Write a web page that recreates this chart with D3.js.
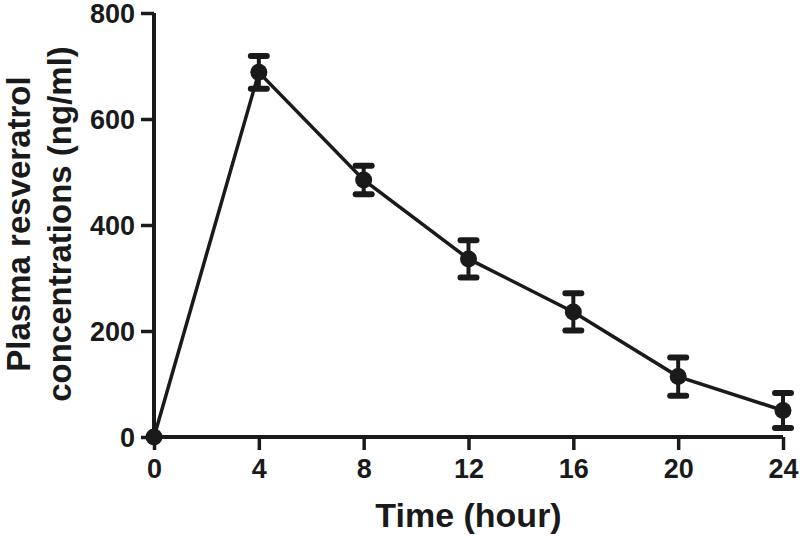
<!DOCTYPE html>
<html>
<head>
<meta charset="utf-8">
<script src="https://cdn.jsdelivr.net/npm/d3@7"></script>
<style>
  body { margin: 0; background: #fff; }
  svg { display: block; }
  text { font-family: "Liberation Sans", Arial, sans-serif; font-weight: bold; fill: #1a1a1a; }
</style>
</head>
<body>
<div id="chart"></div>
<script>
// time points (hour) and plasma levels
var hours = [0, 4, 8, 12, 16, 20, 24];
var meanConc = [0, 688, 485, 336, 236, 114, 50];
var sdConc = [0, 31, 27, 35, 35, 36, 33];
var xTicks = [0, 4, 8, 12, 16, 20, 24];
var yTicks = [0, 200, 400, 600, 800];

var width = 800, height = 536,
  margin = { left: 154, right: 17, top: 13, bottom: 99 },
  ink = '#1a1a1a';

var svg = d3.select('#chart').append('svg')
  .attr('width', width)
  .attr('height', height);

var x = d3.scaleLinear().domain([0, 24]).range([margin.left, width - margin.right]);
var y = d3.scaleLinear().domain([0, 800]).range([height - margin.bottom, margin.top]);

var points = hours.map(function(h, i) {
  return { t: h, m: meanConc[i], sd: sdConc[i] };
});

// axes
var xAxis = svg.append('g')
  .attr('transform', 'translate(0,' + y(0) + ')')
  .call(d3.axisBottom(x).tickValues(xTicks).tickSize(13).tickPadding(9));
var yAxis = svg.append('g')
  .attr('transform', 'translate(' + x(0) + ',0)')
  .call(d3.axisLeft(y).tickValues(yTicks).tickSize(13).tickPadding(6));

[xAxis, yAxis].forEach(function(ax) {
  ax.select('.domain').attr('stroke', ink).attr('stroke-width', 4);
  ax.selectAll('.tick line').attr('stroke', ink).attr('stroke-width', 3.5);
  ax.selectAll('.tick text').attr('fill', ink).style('font-size', '27px');
});
xAxis.selectAll('.domain').attr('d', 'M' + x(0) + ',0H' + x(24));
xAxis.selectAll('.tick text').attr('dy', '0.71em');
yAxis.selectAll('.domain').attr('d', 'M0,' + y(800) + 'V' + y(0));
yAxis.selectAll('.tick text').attr('dy', '0.36em');

// connecting line
svg.append('path')
  .datum(points)
  .attr('fill', 'none')
  .attr('stroke', ink)
  .attr('stroke-width', 3.5)
  .attr('d', d3.line().x(function(d) { return x(d.t); }).y(function(d) { return y(d.m); }));

// error bars
var bars = svg.append('g').selectAll('g').data(points.filter(function(d) { return d.sd > 0; }))
  .enter().append('g');
bars.append('line')
  .attr('x1', function(d) { return x(d.t); })
  .attr('x2', function(d) { return x(d.t); })
  .attr('y1', function(d) { return y(d.m + d.sd); })
  .attr('y2', function(d) { return y(d.m - d.sd); })
  .attr('stroke', ink).attr('stroke-width', 4);
[1, -1].forEach(function(s) {
  bars.append('line')
    .attr('x1', function(d) { return x(d.t) - 8; })
    .attr('x2', function(d) { return x(d.t) + 8; })
    .attr('y1', function(d) { return y(d.m + s * d.sd); })
    .attr('y2', function(d) { return y(d.m + s * d.sd); })
    .attr('stroke', ink).attr('stroke-width', 6).attr('stroke-linecap', 'round');
});

// markers
svg.append('g').selectAll('circle').data(points).enter().append('circle')
  .attr('cx', function(d) { return x(d.t); })
  .attr('cy', function(d) { return y(d.m); })
  .attr('r', 8.5)
  .attr('fill', ink);

// axis titles
svg.append('text')
  .attr('x', (x(0) + x(24)) / 2)
  .attr('y', 527)
  .attr('text-anchor', 'middle')
  .style('font-size', '34px')
  .text('Time (hour)');

var yTitle = svg.append('text')
  .attr('transform', 'translate(0,' + 224 + ') rotate(-90)')
  .attr('text-anchor', 'middle')
  .style('font-size', '33px');
yTitle.append('tspan').attr('x', 0).attr('y', 30).text('Plasma resveratrol');
yTitle.append('tspan').attr('x', 0).attr('y', 71).text('concentrations (ng/ml)');
</script>
</body>
</html>
